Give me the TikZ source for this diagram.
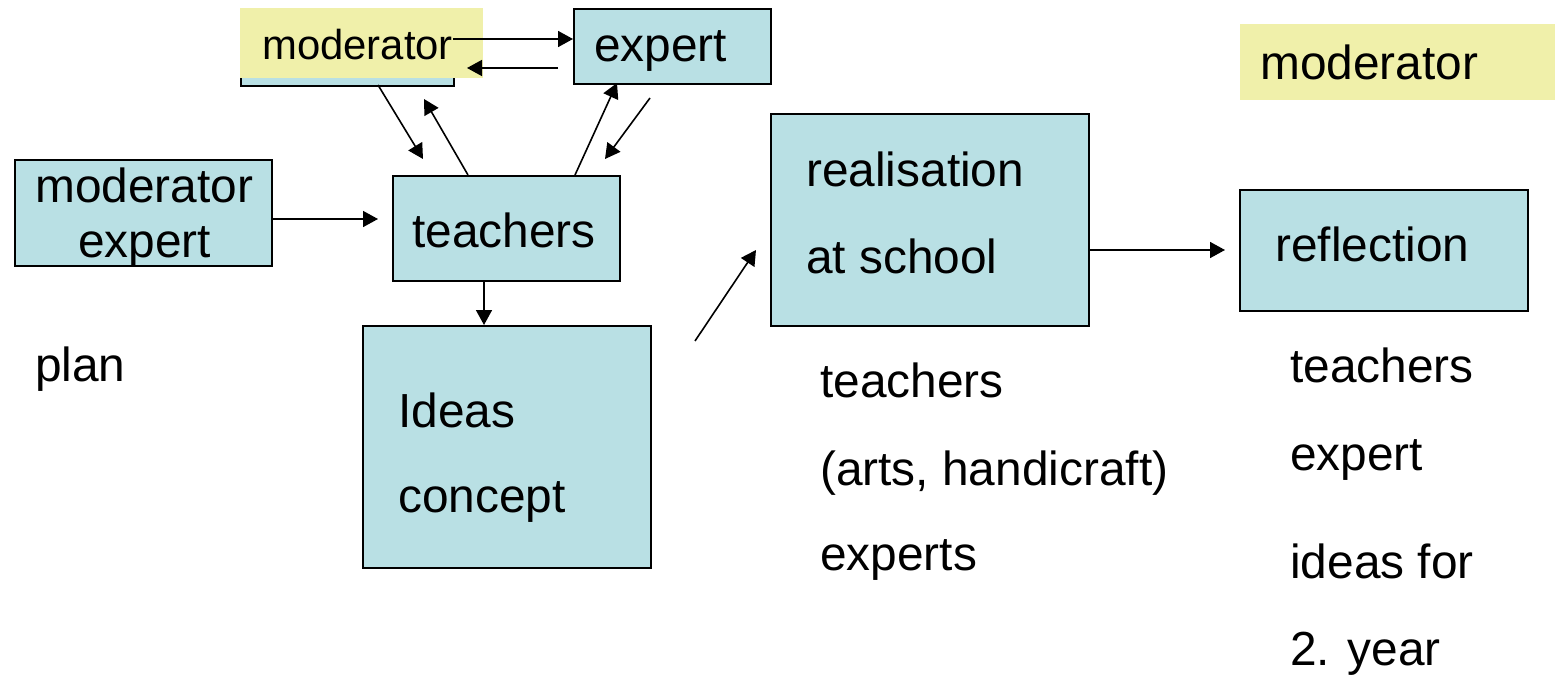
\documentclass[tikz,border=0pt]{standalone}
\usepackage{fontspec}
\setmainfont{Liberation Sans}
\usetikzlibrary{arrows.meta}
\definecolor{boxblue}{RGB}{185,224,228}
\definecolor{boxyellow}{RGB}{240,240,170}
\begin{document}
\begin{tikzpicture}[x=1bp,y=-1bp,
  bluebox/.style={draw=black,line width=1.6bp,fill=boxblue,inner sep=0,anchor=north west},
  yelbox/.style={fill=boxyellow,inner sep=0,anchor=north west},
  lbl/.style={anchor=base west,inner sep=0,font=\fontsize{48}{56}\selectfont},
  slbl/.style={anchor=base west,inner sep=0,font=\fontsize{42}{50}\selectfont},
  arr/.style={line width=1.6bp,-{Triangle[length=15bp,width=16bp]}}]
\useasboundingbox (0,0) rectangle (1555,677);
% boxes
\node[bluebox,minimum width=213bp,minimum height=77bp] (modb) at (240,8) {};
\node[yelbox,minimum width=243bp,minimum height=70bp] (mody) at (240,8) {};
\node[bluebox,minimum width=197bp,minimum height=75bp] (exp) at (573,8) {};
\node[bluebox,minimum width=257bp,minimum height=106bp] (modexp) at (14,159) {};
\node[bluebox,minimum width=227bp,minimum height=105bp] (teach) at (392,175) {};
\node[bluebox,minimum width=288bp,minimum height=242bp] (ideas) at (362,325) {};
\node[bluebox,minimum width=318bp,minimum height=212bp] (real) at (770,113) {};
\node[bluebox,minimum width=288bp,minimum height=121bp] (refl) at (1239,189) {};
\node[yelbox,minimum width=315bp,minimum height=76bp] (mody2) at (1240,24) {};
% texts
\node[slbl] (tmod) at (262,60) {moderator};
\node[lbl] (texp) at (594,62) {expert};
\node[lbl] (tmod2) at (1260,80) {moderator};
\node[lbl] (tme1) at (35,202) {moderator};
\node[lbl] (tme2) at (78,257) {expert};
\node[lbl] (tteach) at (412,247) {teachers};
\node[lbl] (tplan) at (35,381) {plan};
\node[lbl] (tideas) at (398,427) {Ideas};
\node[lbl] (tconc) at (398,512) {concept};
\node[lbl] (treal) at (806,186) {realisation};
\node[lbl] (tsch) at (806,273) {at school};
\node[lbl] (trefl) at (1275,261) {reflection};
\node[lbl] (mt1) at (820,397) {teachers};
\node[lbl] (mt2) at (820,485) {(arts, handicraft)};
\node[lbl] (mt3) at (820,570) {experts};
\node[lbl] (rt1) at (1290,382) {teachers};
\node[lbl] (rt2) at (1290,470) {expert};
\node[lbl] (rt3) at (1290,578) {ideas for};
\node[lbl] (rt4) at (1290,665) {2. year};
% connector end points
\coordinate (a1s) at (453,39);
\coordinate (b1s) at (558,68);
\coordinate (b1e) at (467,68);
\coordinate (c1s) at (378,85);
\coordinate (c1e) at (423,159);
\coordinate (d1s) at (468,175);
\coordinate (d1e) at (424,99);
\coordinate (e1s) at (575,175);
\coordinate (e1e) at (617,83);
\coordinate (f1s) at (650,98);
\coordinate (f1e) at (605,159);
\coordinate (g1e) at (378,219);
\coordinate (h1s) at (695,341);
\coordinate (h1e) at (756,250);
\coordinate (i1e) at (1225,250);
% connectors
\draw[arr] (a1s) -- (exp.west |- a1s);
\draw[arr] (b1s) -- (b1e);
\draw[arr] (c1s) -- (c1e);
\draw[arr] (d1s) -- (d1e);
\draw[arr] (e1s) -- (e1e);
\draw[arr] (f1s) -- (f1e);
\draw[arr] (modexp.east |- g1e) -- (g1e);
\draw[arr] (teach.south -| 484,0) -- (ideas.north -| 484,0);
\draw[arr] (h1s) -- (h1e);
\draw[arr] (real.east |- i1e) -- (i1e);
\end{tikzpicture}
\end{document}
